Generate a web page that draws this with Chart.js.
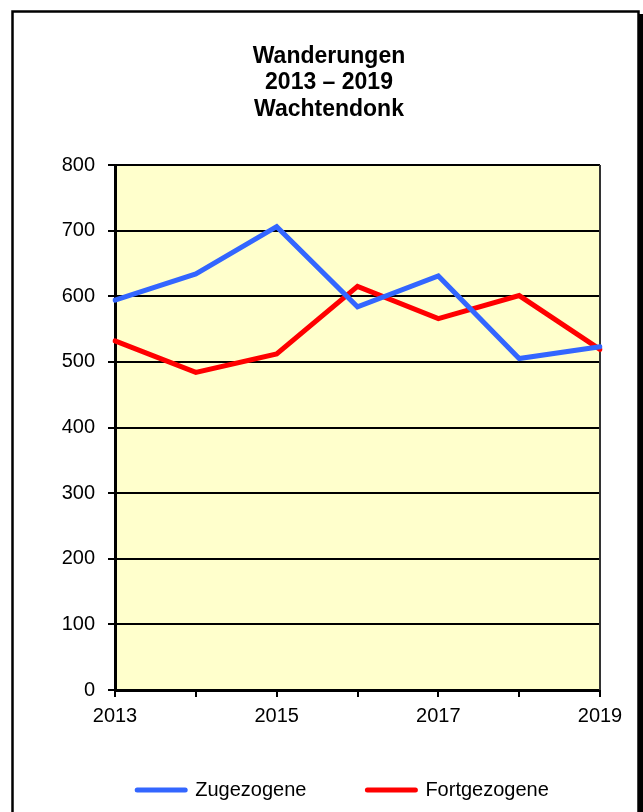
<!DOCTYPE html>
<html>
<head>
<meta charset="utf-8">
<script src="https://cdn.jsdelivr.net/npm/chart.js@4.4.1/dist/chart.umd.min.js"></script>
<style>
  html, body { margin: 0; padding: 0; background: #ffffff; }
  canvas { display: block; }
</style>
</head>
<body>
<canvas id="c" width="643" height="812"></canvas>
<script>
// ---- data ----
const years = ['2013', '2014', '2015', '2016', '2017', '2018', '2019'];
const shownYearLabels = ['2013', '2015', '2017', '2019'];
const zugezogene = [594, 634, 706, 584, 631, 505, 523];
const fortgezogene = [532, 484, 512, 615, 566, 601, 519];
const seriesNames = ['Zugezogene', 'Fortgezogene'];
const titleLines = ['Wanderungen', '2013 – 2019', 'Wachtendonk'];
const yTickMin = 0, yTickMax = 800, yTickStep = 100;

const FONT = '"Liberation Sans", Arial, Helvetica, sans-serif';

const decorPlugin = {
  id: 'decor',
  afterLayout(chart) {
    // place the legend row like the original (Excel-style spacing)
    const lg = chart.legend;
    if (lg) {
      lg.left += 14; lg.right += 14;
      lg.top -= 8; lg.bottom -= 8;
    }
  },
  beforeDraw(chart) {
    const { ctx, chartArea: a } = chart;
    ctx.save();
    ctx.fillStyle = '#ffffff';
    ctx.fillRect(0, 0, chart.width, chart.height);
    // outer frame with shadow
    ctx.fillStyle = '#000000';
    ctx.fillRect(639, 14, 4, chart.height);
    ctx.strokeStyle = '#000000';
    ctx.lineWidth = 2.5;
    ctx.strokeRect(12.5, 11.5, 626, chart.height + 20);
    // plot background
    ctx.fillStyle = '#FFFFCC';
    ctx.fillRect(a.left, a.top, a.right - a.left, a.bottom - a.top);
    ctx.restore();
  },
  beforeDatasetsDraw(chart) {
    const { ctx, chartArea: a } = chart;
    ctx.save();
    ctx.strokeStyle = '#333333';
    ctx.lineWidth = 2;
    ctx.beginPath();
    ctx.moveTo(a.right, a.top);
    ctx.lineTo(a.right, a.bottom);
    ctx.stroke();
    ctx.restore();
  }
};

new Chart(document.getElementById('c'), {
  type: 'line',
  data: {
    labels: years,
    datasets: [
      {
        label: seriesNames[0],
        data: zugezogene,
        borderColor: '#3366FF',
        backgroundColor: '#3366FF',
        borderWidth: 5,
        pointRadius: 0,
        pointHoverRadius: 0,
        pointBorderWidth: 5,
        tension: 0,
        borderCapStyle: 'round',
        fill: false
      },
      {
        label: seriesNames[1],
        data: fortgezogene,
        borderColor: '#FF0000',
        backgroundColor: '#FF0000',
        borderWidth: 5,
        pointRadius: 0,
        pointHoverRadius: 0,
        pointBorderWidth: 5,
        tension: 0,
        borderCapStyle: 'round',
        fill: false
      }
    ]
  },
  options: {
    responsive: false,
    animation: false,
    devicePixelRatio: 1,
    layout: { padding: { left: 58, right: 43, top: 0, bottom: -6 } },
    plugins: {
      title: {
        display: true,
        text: titleLines,
        color: '#000000',
        font: { family: FONT, size: 23, weight: 'bold', lineHeight: '26.5px' },
        padding: { top: 43, bottom: 42.5 }
      },
      legend: {
        display: true,
        position: 'bottom',
        labels: {
          color: '#000000',
          font: { family: FONT, size: 20 },
          usePointStyle: true,
          pointStyle: 'line',
          pointStyleWidth: 48,
          padding: 61,
          generateLabels(chart) {
            return Chart.defaults.plugins.legend.labels.generateLabels(chart)
              .map(l => Object.assign(l, { lineCap: 'round', lineWidth: 5 }));
          }
        }
      },
      tooltip: { enabled: false }
    },
    scales: {
      x: {
        type: 'category',
        offset: false,
        afterFit(scale) { scale.height = 37; },
        grid: {
          display: true,
          drawOnChartArea: false,
          drawTicks: true,
          tickLength: 7,
          color: '#000000',
          lineWidth: 2
        },
        border: { display: true, color: '#000000', width: 3 },
        ticks: {
          autoSkip: false,
          maxRotation: 0,
          color: '#000000',
          font: { family: FONT, size: 20 },
          padding: 7,
          callback(value) {
            const lab = this.getLabelForValue(value);
            return shownYearLabels.includes(lab) ? lab : '';
          }
        }
      },
      y: {
        min: yTickMin,
        max: yTickMax,
        afterFit(scale) { scale.width = 57; },
        grid: {
          color: '#000000',
          lineWidth: 2,
          drawTicks: true,
          tickLength: 7
        },
        border: { display: true, color: '#000000', width: 3 },
        ticks: {
          stepSize: yTickStep,
          color: '#000000',
          font: { family: FONT, size: 20 },
          padding: 13
        }
      }
    }
  },
  plugins: [decorPlugin]
});
</script>
</body>
</html>
